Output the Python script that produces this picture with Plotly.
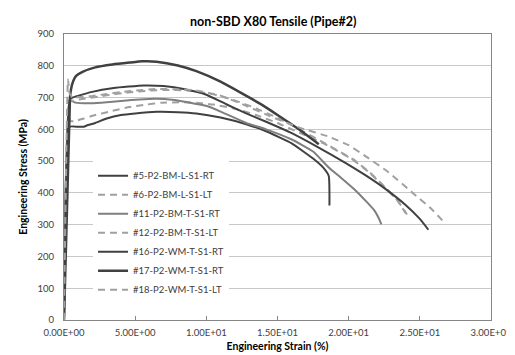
import plotly.graph_objects as go

# ---- data ----
names = ["#5-P2-BM-L-S1-RT", "#6-P2-BM-L-S1-LT", "#11-P2-BM-T-S1-RT",
         "#12-P2-BM-T-S1-LT", "#16-P2-WM-T-S1-RT", "#17-P2-WM-T-S1-RT",
         "#18-P2-WM-T-S1-LT"]

s5_x = [0, 0.4, 1.0, 1.4, 1.6, 2.2, 3.0, 4.0, 5.0, 6.5, 8.0, 9.3, 11.0, 12.8, 14.2, 16.0, 17.5, 18.2, 18.6, 18.65]
s5_y = [0, 608, 608, 608, 612, 620, 634, 645, 650, 655, 654, 650, 637, 616, 594, 556, 508, 480, 453, 360]

s6_x = [0, 0.33, 0.45, 0.74, 1.4, 2.2, 3.4, 4.6, 5.8, 6.9, 8.2, 9.3, 10.5, 12.0, 13.5, 15.0, 16.5, 18.4, 20.3, 21.5, 22.6, 23.4, 24.1]
s6_y = [0, 640, 626, 626, 634, 645, 658, 670, 678, 684, 685, 684, 678, 665, 645, 620, 590, 552, 504, 462, 414, 378, 332]

s11_x = [0, 0.4, 0.8, 1.9, 3.0, 4.2, 5.3, 6.5, 7.6, 8.6, 9.3, 10.0, 11.2, 12.8, 14.2, 16.0, 17.5, 18.6, 19.5, 20.5, 21.3, 21.8, 22.1, 22.3]
s11_y = [0, 692, 684, 682, 685, 690, 694, 696, 693, 686, 680, 674, 652, 620, 600, 568, 530, 480, 446, 407, 370, 345, 322, 301]

s12_x = [0, 0.38, 0.6, 1.5, 3.0, 4.5, 6.0, 7.5, 9.0, 10.5, 12.0, 13.5, 15.0, 16.5, 18.4, 20.3, 21.5, 22.6, 23.4, 24.0]
s12_y = [0, 686, 690, 697, 707, 716, 722, 724, 721, 710, 691, 666, 636, 601, 554, 506, 464, 416, 378, 336]

s16_x = [0, 0.4, 0.6, 1.9, 3.5, 5.6, 7.0, 8.5, 10.0, 11.4, 12.8, 14.2, 16.0, 17.8, 19.8, 21.2, 22.6, 24.0, 25.0, 25.6]
s16_y = [0, 694, 700, 717, 730, 738, 736, 726, 709, 679, 650, 624, 588, 545, 494, 455, 412, 362, 318, 284]

s17_x = [0, 0.42, 0.5, 0.65, 0.85, 1.3, 2.2, 3.4, 4.6, 5.5, 6.5, 8.0, 9.3, 11.0, 12.5, 13.8, 15.0, 16.5, 17.9]
s17_y = [0, 700, 728, 752, 768, 781, 795, 804, 810, 814, 813, 801, 783, 750, 713, 680, 645, 600, 553]

s18_x = [0, 0.28, 0.4, 0.6, 1.0, 2.0, 3.0, 4.0, 5.0, 6.5, 8.0, 9.3, 11.0, 12.8, 14.5, 16.5, 18.6, 20.0, 21.2, 22.8, 24.5, 25.8, 26.8]
s18_y = [0, 757, 712, 700, 701, 705, 711, 717, 722, 727, 726, 722, 706, 674, 641, 606, 577, 550, 515, 465, 400, 350, 303]

x_ticks = [0, 5, 10, 15, 20, 25, 30]
y_ticks = [0, 100, 200, 300, 400, 500, 600, 700, 800, 900]

series_x = [s5_x, s6_x, s11_x, s12_x, s16_x, s17_x, s18_x]
series_y = [s5_y, s6_y, s11_y, s12_y, s16_y, s17_y, s18_y]

DARK = "#404040"
GRAY = "#7f7f7f"
DASH = "#a0a0a0"
styles = [
    dict(color=DARK, width=2),
    dict(color=DASH, width=2, dash="7px,5px"),
    dict(color=GRAY, width=2),
    dict(color=DASH, width=2, dash="7px,5px"),
    dict(color=DARK, width=2),
    dict(color=DARK, width=2.5),
    dict(color=DASH, width=2, dash="7px,5px"),
]

fig = go.Figure()
for n, xs, ys, st in zip(names, series_x, series_y, styles):
    fig.add_trace(go.Scatter(x=xs, y=ys, mode="lines", name=n, line=dict(shape="spline", smoothing=0.4, **st)))

FONT = "Lato"
fig.update_layout(
    width=515, height=355,
    margin=dict(l=56, r=28, t=26, b=39),
    paper_bgcolor="white", plot_bgcolor="white",
    font=dict(family=FONT, size=10, color="#404040"),
    title=dict(text="<b>non-SBD X80 Tensile (Pipe#2)</b>", x=0.515, xanchor="center",
               y=1 - 14 / 355, yanchor="middle", yref="container",
               font=dict(family=FONT, size=12.5, color="black")),
    showlegend=True,
    legend=dict(x=0.068, y=0.555, xanchor="left", yanchor="top", bgcolor="white",
                font=dict(family=FONT, size=9.5, color="#404040"), tracegroupgap=0,
                itemwidth=30),
)
fig.update_xaxes(
    range=[0, 30], tickvals=x_ticks, ticktext=["{:.2E}".format(v) for v in x_ticks],
    showgrid=False, zeroline=False, showline=True, linecolor="#868686", linewidth=1,
    mirror=True, ticks="inside", ticklen=4, tickcolor="#868686",
    tickfont=dict(family=FONT, size=9.5, color="#404040"), ticklabelstandoff=4,
    title=dict(text="<b>Engineering Strain (%)</b>", standoff=5,
               font=dict(family=FONT, size=10.5, color="black")),
)
fig.update_yaxes(
    range=[0, 900], tickvals=y_ticks, showgrid=True, gridcolor="#c8c8c8", gridwidth=1,
    zeroline=False, showline=True, linecolor="#868686", linewidth=1, mirror=True,
    ticks="", tickfont=dict(family=FONT, size=9.5, color="#404040"), ticklabelstandoff=7,
    title=dict(text="<b>Engineering Stress (MPa)</b>", standoff=7,
               font=dict(family=FONT, size=10.5, color="black")),
)

fig.write_html("out.html")
